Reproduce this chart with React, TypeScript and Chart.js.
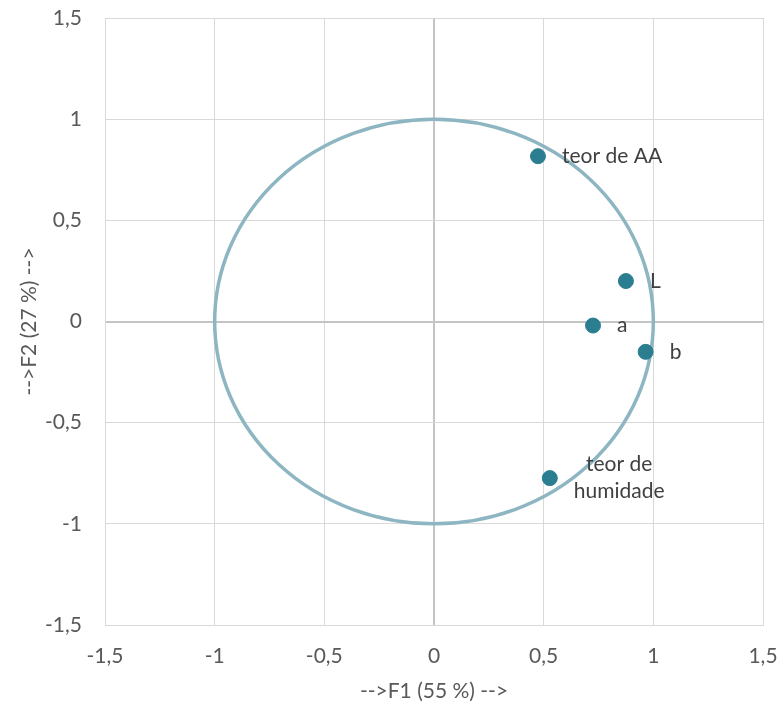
import React, { useEffect, useRef } from "react";
import { Chart, registerables } from "chart.js";

Chart.register(...registerables);

const variableNames: string[][] = [["teor de AA"], ["L"], ["a"], ["b"], ["teor de", "humidade"]];
const f1Values = [0.474, 0.875, 0.725, 0.965, 0.528];
const f2Values = [0.817, 0.2, -0.02, -0.15, -0.774];
const axisTicks = [-1.5, -1, -0.5, 0, 0.5, 1, 1.5];
const xTitle = "-->F1 (55 %) -->";
const yTitle = "-->F2 (27 %) -->";

const FONT = "Lato, 'Open Sans', sans-serif";
const FS = 21;
const fmt = (v: number) => String(v).replace(".", ",");

const circlePlugin = {
  id: "corrCircle",
  beforeDatasetsDraw(chart: any) {
    const { ctx, scales } = chart;
    const xs = scales.x, ys = scales.y;
    const cx = xs.getPixelForValue(0), cy = ys.getPixelForValue(0);
    const rx = xs.getPixelForValue(1) - cx;
    const ry = cy - ys.getPixelForValue(1);
    ctx.save();
    ctx.beginPath();
    ctx.ellipse(cx, cy, rx, ry, 0, 0, Math.PI * 2);
    ctx.strokeStyle = "#8db6c2";
    ctx.lineWidth = 3.5;
    ctx.stroke();
    ctx.restore();
  },
};

const labelPlugin = {
  id: "pointLabels",
  afterDatasetsDraw(chart: any) {
    const { ctx } = chart;
    const meta = chart.getDatasetMeta(0);
    ctx.save();
    ctx.font = `${FS}px ${FONT}`;
    ctx.fillStyle = "#404040";
    ctx.textBaseline = "middle";
    const lh = 27;
    meta.data.forEach((el: any, i: number) => {
      const lines = variableNames[i];
      const widths = lines.map((l) => ctx.measureText(l).width);
      const bw = Math.max(...widths);
      const left = el.x + 24;
      const y0 = el.y - ((lines.length - 1) * lh) / 2;
      lines.forEach((l, j) => {
        ctx.textAlign = "left";
        ctx.fillText(l, left + (bw - widths[j]) / 2, y0 + j * lh);
      });
    });
    ctx.restore();
  },
};

export default function App() {
  const ref = useRef<HTMLCanvasElement>(null);
  useEffect(() => {
    if (!ref.current) return;
    const gridColor = (c: any) => (c.tick && c.tick.value === 0 ? "#c4c4c4" : "#d9d9d9");
    const gridWidth = (c: any) => (c.tick && c.tick.value === 0 ? 2 : 1);
    const chart = new Chart(ref.current, {
      type: "scatter",
      data: {
        datasets: [
          {
            data: f1Values.map((x, i) => ({ x, y: f2Values[i] })),
            backgroundColor: "#2b7d90",
            borderColor: "#2b7d90",
            pointRadius: 7.5,
            pointHoverRadius: 7.5,
          },
        ],
      },
      options: {
        responsive: false,
        animation: false,
        layout: { padding: { top: 18, right: 17, left: 0, bottom: 0 } },
        plugins: { legend: { display: false }, tooltip: { enabled: false } },
        scales: {
          x: {
            type: "linear",
            min: -1.5,
            max: 1.5,
            afterBuildTicks: (s: any) => { s.ticks = axisTicks.map((v) => ({ value: v })); },
            afterFit: (s: any) => { s.height = 86; s.paddingLeft = 0; s.paddingRight = 0; },
            grid: { color: gridColor, lineWidth: gridWidth, drawTicks: false },
            border: { color: "#d9d9d9" },
            ticks: {
              padding: 19,
              color: "#595959",
              font: { family: FONT, size: FS },
              callback: (v: any) => fmt(v),
              maxRotation: 0,
            },
            title: {
              display: true,
              text: xTitle,
              color: "#595959",
              font: { family: FONT, size: FS },
              padding: { top: 0, bottom: 7 },
            },
          },
          y: {
            type: "linear",
            min: -1.5,
            max: 1.5,
            afterBuildTicks: (s: any) => { s.ticks = axisTicks.map((v) => ({ value: v })); },
            afterFit: (s: any) => { s.width = 105; s.paddingTop = 0; s.paddingBottom = 0; },
            grid: { color: gridColor, lineWidth: gridWidth, drawTicks: false },
            border: { color: "#d9d9d9" },
            ticks: {
              padding: 23,
              color: "#595959",
              font: { family: FONT, size: FS },
              callback: (v: any) => fmt(v),
            },
            title: {
              display: true,
              text: yTitle,
              color: "#595959",
              font: { family: FONT, size: FS },
              padding: { top: 17, bottom: 0 },
            },
          },
        },
      },
      plugins: [circlePlugin, labelPlugin],
    });
    return () => chart.destroy();
  }, []);
  return (
    <div style={{ position: "absolute", left: 0, top: 0, width: 780, height: 711, background: "#fff" }}>
      <canvas ref={ref} width={780} height={711} style={{ display: "block" }} />
    </div>
  );
}
